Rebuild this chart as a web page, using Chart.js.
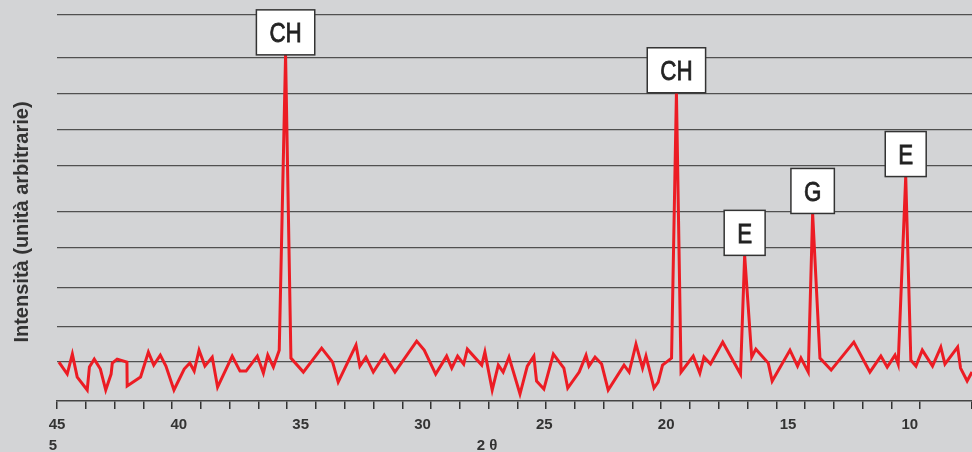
<!DOCTYPE html>
<html>
<head>
<meta charset="utf-8">
<script src="https://cdn.jsdelivr.net/npm/chart.js@4/dist/chart.umd.min.js"></script>
<style>
  html, body { margin: 0; padding: 0; background: #d3d4d6; }
  #wrap { width: 972px; height: 452px; }
</style>
</head>
<body>
<div id="wrap"><canvas id="xrd"></canvas></div>
<script>
// diffraction pattern, 2 theta (degrees) vs intensity (arbitrary)
var theta = [44.92, 44.58, 44.37, 44.17, 43.76, 43.67, 43.47, 43.22, 43.00, 42.78, 42.73, 42.53, 42.13, 42.12,
  41.57, 41.25, 41.03, 40.76, 40.53, 40.20, 39.78, 39.55, 39.37, 39.17, 38.93, 38.63, 38.41, 37.81, 37.49,
  37.24, 36.78, 36.53, 36.35, 36.12, 35.88, 35.62, 35.40, 34.89, 34.14, 33.69, 33.46, 32.73, 32.57, 32.32,
  32.02, 31.57, 31.13, 30.24, 29.93, 29.46, 29.01, 28.80, 28.56, 28.31, 28.16, 27.57, 27.44, 27.14, 26.89,
  26.69, 26.45, 26.00, 25.70, 25.43, 25.32, 25.02, 24.63, 24.20, 24.04, 23.57, 23.29, 23.17, 22.92, 22.65,
  22.38, 21.73, 21.52, 21.24, 20.97, 20.83, 20.50, 20.33, 20.15, 19.78, 19.58, 19.39, 18.89, 18.62, 18.45,
  18.18, 17.68, 16.95, 16.78, 16.49, 16.32, 15.81, 15.65, 14.92, 14.61, 14.47, 14.17, 13.99, 13.69, 13.23,
  12.30, 11.64, 11.19, 10.93, 10.61, 10.48, 10.17, 9.96, 9.75, 9.49, 9.07, 8.73, 8.56, 8.04, 7.92, 7.65, 7.45];
var intensity = [0, -12, 8, -15, -28, -5, 3, -7, -28, -12, -1, 3, 0, -24,
  -15, 10, -3, 7, -4, -28, -7, -1, -9, 12, -4, 5, -25, 6, -9,
  -9, 6, -11, 7, -5, 12, 308, 4, -10, 14, 0, -20, 17, -4, 5,
  -10, 7, -10, 21, 12, -12, 6, -6, 6, -2, 13, -3, 10, -28, -3,
  -10, 5, -32, -4, 6, -19, -27, 8, -6, -26, -10, 7, -4, 5, -2,
  -28, -3, -10, 18, -6, 6, -26, -20, -3, 4, 270, -10, 6, -11, 5,
  -2, 20, -12, 107, 5, 13, -1, -19, 12, -4, 4, -10, 149, 4, -8,
  20, -10, 6, -5, 7, -2, 186, 2, -4, 12, -4, 15, -2, 15, -6, -19, -10];

// labelled reflections
var peakTheta = [35.62, 19.58, 16.78, 13.99, 10.17];
var peakNames = ["CH", "CH", "E", "G", "E"];

var xTicks = [45, 40, 35, 30, 25, 20, 15, 10];
var yGrid = [0, 36, 75, 115, 151, 197, 233, 269, 305, 348];

var points = theta.map(function(t, i) { return { x: t, y: intensity[i] }; });

var background = {
  id: "background",
  beforeDraw: function(chart) {
    var ctx = chart.ctx;
    ctx.save();
    ctx.fillStyle = "#d3d4d6";
    ctx.fillRect(0, 0, chart.width, chart.height);
    ctx.restore();
  }
};

// white boxes with the phase letter sitting on top of each peak
var peakBoxes = {
  id: "peakBoxes",
  afterDatasetsDraw: function(chart) {
    var ctx = chart.ctx;
    var meta = chart.getDatasetMeta(0);
    var squeeze = 0.8;
    ctx.save();
    ctx.font = "28px 'Liberation Sans', Arial, sans-serif";
    peakTheta.forEach(function(t, k) {
      var i = theta.indexOf(t);
      var p = meta.data[i];
      var w = ctx.measureText(peakNames[k]).width * squeeze + 26;
      var h = 45;
      ctx.fillStyle = "#ffffff";
      ctx.fillRect(p.x - w / 2, p.y - h, w, h);
      ctx.strokeStyle = "#333333";
      ctx.lineWidth = 1.5;
      ctx.strokeRect(p.x - w / 2, p.y - h, w, h);
      ctx.save();
      ctx.translate(p.x, p.y - h / 2 + 10);
      ctx.scale(squeeze, 1);
      ctx.fillStyle = "#222222";
      ctx.strokeStyle = "#222222";
      ctx.lineWidth = 0.8;
      ctx.textAlign = "center";
      ctx.textBaseline = "alphabetic";
      ctx.fillText(peakNames[k], 0, 0);
      ctx.strokeText(peakNames[k], 0, 0);
      ctx.restore();
    });
    ctx.restore();
  }
};

var extraText = {
  id: "extraText",
  afterDraw: function(chart) {
    var ctx = chart.ctx;
    ctx.save();
    ctx.fillStyle = "#333333";
    ctx.textAlign = "center";
    ctx.textBaseline = "middle";
    ctx.font = "bold 15px 'Liberation Sans', Arial, sans-serif";
    ctx.fillText("2 θ", 487, 446);
    ctx.fillText("5", 53, 446);
    ctx.translate(22, 222);
    ctx.rotate(-Math.PI / 2);
    ctx.font = "bold 20px 'Liberation Sans', Arial, sans-serif";
    ctx.fillText("Intensità (unità arbitrarie)", 0, 0);
    ctx.restore();
  }
};

new Chart(document.getElementById("xrd"), {
  type: "line",
  data: {
    datasets: [{
      data: points,
      borderColor: "#ec1c24",
      borderWidth: 3,
      pointRadius: 0,
      tension: 0,
      fill: false
    }]
  },
  options: {
    responsive: true,
    maintainAspectRatio: false,
    animation: false,
    layout: { padding: { top: 0, right: 0, bottom: 11, left: 0 } },
    plugins: {
      legend: { display: false },
      tooltip: { enabled: false }
    },
    scales: {
      x: {
        type: "linear",
        position: "bottom",
        reverse: true,
        min: 7.45,
        max: 45,
        weight: 1,
        grid: { display: false, drawTicks: false },
        border: { display: false },
        afterBuildTicks: function(scale) {
          scale.ticks = xTicks.map(function(v) { return { value: v }; });
        },
        ticks: {
          color: "#333333",
          padding: 7,
          maxRotation: 0,
          font: { family: "'Liberation Sans', Arial, sans-serif", size: 15, weight: "bold" }
        }
      },
      x2: {
        type: "linear",
        position: "bottom",
        min: 0,
        max: 31.8,
        weight: 0,
        grid: { drawOnChartArea: false, drawTicks: true, tickLength: 8, color: "#333333", lineWidth: 1.5 },
        border: { display: true, color: "#444444", width: 1.5 },
        ticks: { display: false, stepSize: 1 }
      },
      y: {
        min: -39,
        max: 363,
        afterBuildTicks: function(scale) {
          scale.ticks = yGrid.map(function(v) { return { value: v }; });
        },
        afterFit: function(scale) { scale.width = 57; },
        grid: { color: "#505050", lineWidth: 1.2, drawTicks: false },
        border: { display: false },
        ticks: { display: false }
      }
    }
  },
  plugins: [background, peakBoxes, extraText]
});
</script>
</body>
</html>
